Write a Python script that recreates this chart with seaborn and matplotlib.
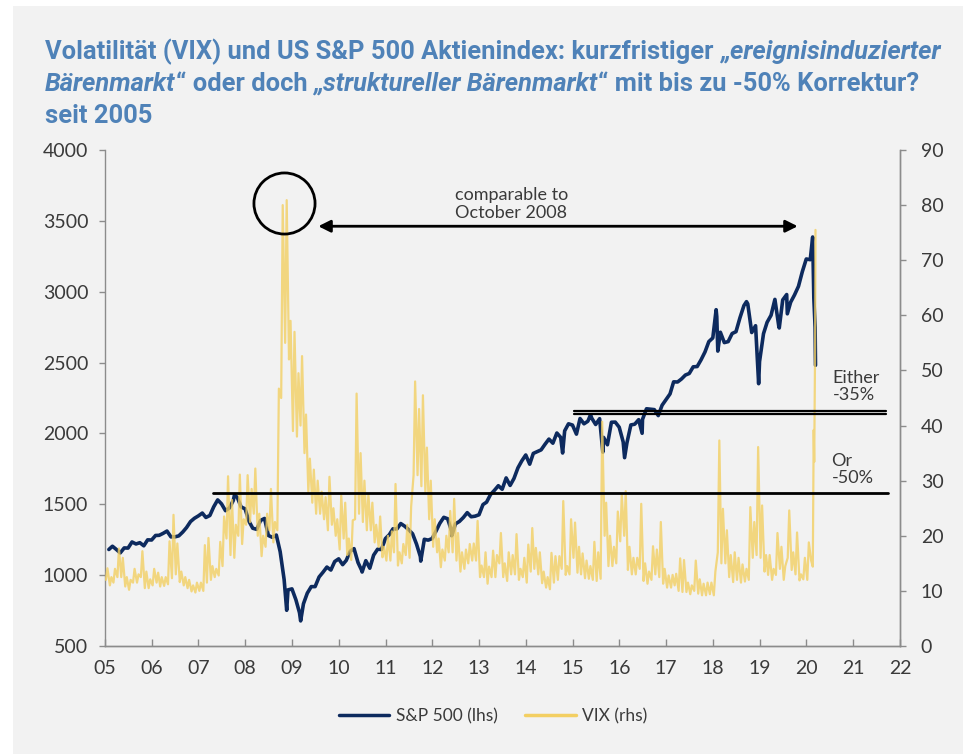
import matplotlib
matplotlib.use("Agg")
import matplotlib.pyplot as plt
import matplotlib.dates as mdates
from matplotlib.lines import Line2D
from matplotlib.patches import Rectangle
import seaborn as sns
import pandas as pd

# S&P 500 month-end closes, Jan 2005 .. Jan 2020
sp_close = [
    1181, 1204, 1181, 1157, 1192, 1191, 1234, 1220, 1229, 1207, 1249, 1248,  # 2005
    1280, 1281, 1295, 1311, 1270, 1270, 1277, 1304, 1336, 1378, 1401, 1418,  # 2006
    1438, 1407, 1421, 1482, 1531, 1503, 1455, 1474, 1527, 1549, 1481, 1468,  # 2007
    1379, 1331, 1323, 1386, 1400, 1280, 1267, 1283, 1166, 969, 896, 903,     # 2008
    826, 735, 798, 873, 919, 919, 987, 1021, 1057, 1036, 1096, 1115,         # 2009
    1074, 1104, 1169, 1187, 1089, 1031, 1102, 1049, 1141, 1183, 1181, 1258,  # 2010
    1286, 1327, 1326, 1364, 1345, 1321, 1292, 1219, 1131, 1253, 1247, 1258,  # 2011
    1312, 1366, 1408, 1398, 1310, 1362, 1379, 1407, 1441, 1412, 1416, 1426,  # 2012
    1498, 1515, 1569, 1598, 1631, 1606, 1686, 1633, 1682, 1757, 1806, 1848,  # 2013
    1783, 1859, 1872, 1884, 1924, 1960, 1931, 2003, 1972, 2018, 2068, 2059,  # 2014
    1995, 2105, 2068, 2086, 2107, 2063, 2104, 1972, 1920, 2079, 2080, 2044,  # 2015
    1940, 1932, 2060, 2065, 2097, 2099, 2174, 2171, 2168, 2126, 2199, 2239,  # 2016
    2279, 2364, 2363, 2384, 2412, 2423, 2470, 2472, 2519, 2575, 2648, 2674,  # 2017
    2824, 2714, 2641, 2648, 2705, 2718, 2816, 2902, 2914, 2712, 2760, 2507,  # 2018
    2704, 2784, 2834, 2946, 2752, 2942, 2980, 2926, 2977, 3038, 3141, 3231,  # 2019
    3226,                                                                    # 2020
]
# intra-month extremes and the Feb/Mar 2020 sell-off
sp_extra_dates = [
    "2007-10-09", "2008-11-20", "2009-03-09", "2010-07-02", "2011-10-03",
    "2012-06-01", "2014-10-15", "2015-05-21", "2015-08-25", "2016-02-11",
    "2016-06-27", "2018-01-26", "2018-02-08", "2018-09-20", "2018-12-24",
    "2019-06-03", "2019-08-05", "2020-02-19", "2020-02-28", "2020-03-09",
    "2020-03-12",
]
sp_extra_values = [
    1565, 752, 677, 1022, 1099,
    1278, 1862, 2131, 1868, 1829,
    2001, 2873, 2581, 2930, 2351,
    2744, 2844, 3386, 2954, 2747,
    2481,
]

# VIX monthly low / high, Jan 2005 .. Jan 2020
vix_low = [
    12.0, 11.0, 11.5, 12.5, 12.5, 10.8, 10.2, 11.5, 11.5, 12.5, 10.5, 10.5,  # 2005
    11.0, 11.5, 10.8, 10.9, 11.2, 12.3, 13.0, 11.6, 11.0, 10.5, 9.9, 9.7,    # 2006
    10.0, 10.0, 11.5, 12.0, 12.5, 12.8, 14.5, 19.5, 16.5, 16.0, 20.0, 18.5,  # 2007
    22.0, 22.5, 24.0, 20.0, 16.3, 18.0, 21.0, 18.8, 21.0, 45.0, 55.0, 52.0,  # 2008
    39.0, 38.0, 40.0, 35.0, 28.0, 26.0, 24.0, 24.0, 23.0, 21.0, 22.0, 20.0,  # 2009
    17.5, 19.5, 16.5, 15.6, 23.0, 24.0, 22.5, 21.0, 21.0, 18.8, 18.0, 16.1,  # 2010
    15.5, 15.5, 17.0, 14.6, 15.0, 16.5, 16.0, 31.0, 31.0, 29.0, 28.0, 23.0,  # 2011
    18.0, 17.0, 14.3, 15.5, 17.0, 17.0, 15.5, 13.5, 14.0, 15.0, 15.5, 15.5,  # 2012
    12.5, 12.5, 11.3, 12.5, 12.5, 15.0, 12.5, 11.8, 13.0, 13.0, 12.0, 12.5,  # 2013
    11.5, 13.5, 14.0, 13.0, 11.4, 10.6, 10.3, 11.5, 12.0, 14.0, 12.9, 13.0,  # 2014
    16.0, 13.3, 13.0, 12.3, 12.2, 12.0, 11.8, 12.2, 20.0, 14.5, 14.5, 15.0,  # 2015
    19.0, 20.0, 13.8, 13.0, 13.0, 14.0, 11.8, 11.3, 12.0, 13.0, 12.5, 11.3,  # 2016
    10.6, 10.6, 11.0, 10.0, 9.8, 9.8, 9.4, 10.0, 9.5, 9.2, 9.2, 9.4,         # 2017
    9.2, 17.0, 15.0, 15.0, 12.5, 11.6, 12.0, 11.5, 11.7, 12.0, 16.0, 16.5,   # 2018
    16.0, 13.5, 12.9, 12.0, 12.9, 14.0, 12.0, 16.0, 13.8, 13.0, 11.9, 12.1,  # 2019
    12.0,                                                                    # 2020
]
vix_high = [
    14.1, 12.5, 14.0, 17.7, 16.0, 12.5, 12.0, 14.0, 13.0, 17.2, 13.5, 12.1,  # 2005
    14.0, 13.3, 12.5, 12.5, 19.0, 23.8, 18.6, 13.5, 12.5, 12.0, 11.0, 11.5,  # 2006
    11.5, 18.3, 19.6, 14.5, 14.0, 18.9, 23.5, 30.8, 26.5, 22.0, 31.1, 23.0,  # 2007
    31.0, 28.5, 32.2, 24.0, 20.0, 24.0, 28.5, 22.5, 46.7, 80.0, 80.9, 59.0,  # 2008
    57.0, 49.5, 52.6, 42.0, 34.0, 32.0, 30.0, 28.0, 27.0, 30.7, 25.0, 23.0,  # 2009
    27.3, 26.0, 19.5, 22.8, 45.8, 35.0, 30.0, 27.5, 26.0, 22.0, 23.5, 18.0,  # 2010
    20.0, 20.8, 29.4, 17.0, 18.5, 22.0, 25.3, 48.0, 43.0, 45.5, 36.0, 30.0,  # 2011
    23.0, 19.5, 17.5, 20.0, 24.5, 26.7, 20.5, 17.0, 17.5, 18.5, 18.6, 22.7,  # 2012
    14.6, 17.0, 14.4, 17.3, 16.5, 20.5, 15.0, 17.0, 16.5, 20.3, 14.0, 16.0,  # 2013
    18.4, 21.4, 17.8, 17.0, 13.5, 12.5, 16.9, 16.3, 16.3, 26.3, 14.5, 23.0,  # 2014
    22.4, 18.0, 16.8, 15.5, 14.5, 18.9, 17.0, 40.7, 26.0, 20.0, 18.0, 24.4,  # 2015
    27.5, 28.1, 18.0, 16.0, 16.0, 25.8, 15.0, 13.5, 18.1, 17.5, 22.5, 14.0,  # 2016
    12.8, 12.9, 13.1, 15.9, 15.6, 11.5, 11.0, 15.5, 12.1, 11.3, 11.5, 11.5,  # 2017
    13.5, 37.3, 24.9, 21.0, 16.5, 17.0, 16.0, 14.8, 14.0, 25.2, 22.5, 36.1,  # 2018
    25.5, 16.5, 16.5, 14.0, 20.5, 18.0, 14.5, 24.6, 17.0, 20.6, 13.0, 16.0,  # 2019
    18.8,                                                                    # 2020
]
vix_tail_dates = ["2020-02-07", "2020-02-20", "2020-02-27", "2020-03-02",
                  "2020-03-09", "2020-03-12"]
vix_tail_values = [15.5, 14.4, 39.2, 33.4, 54.5, 75.5]

year_labels = [f"{y % 100:02d}" for y in range(2005, 2023)]
legend_labels = ["S&P 500 (lhs)", "VIX (rhs)"]

title_lines = [
    [("Volatilität (VIX) und US S&P 500 Aktienindex: kurzfristiger ", "normal"),
     ("„ereignisinduzierter", "italic")],
    [("Bärenmarkt", "italic"), ("“ oder doch ", "normal"),
     ("„struktureller Bärenmarkt", "italic"),
     ("“ mit bis zu -50% Korrektur?", "normal")],
    [("seit 2005", "normal")],
]

SP_COLOR = "#0d2a5e"
VIX_COLOR = "#f3cf62"
TITLE_COLOR = "#4f82b8"
TEXT_COLOR = "#3a3a3a"
BG = "#f2f2f2"

# ---- build frames ----
sp_dates = pd.date_range("2005-01-01", periods=len(sp_close), freq="ME")
sp = pd.DataFrame({"date": list(sp_dates) + list(pd.to_datetime(sp_extra_dates)),
                   "value": sp_close + sp_extra_values}).sort_values("date")

months = pd.date_range("2005-01-01", periods=len(vix_low), freq="MS")
vix_dates = []
vix_vals = []
for m, lo, hi in zip(months, vix_low, vix_high):
    vix_dates += [m + pd.Timedelta(days=7), m + pd.Timedelta(days=19)]
    vix_vals += [lo, hi]
vix = pd.DataFrame({"date": vix_dates + list(pd.to_datetime(vix_tail_dates)),
                    "value": vix_vals + vix_tail_values}).sort_values("date")

# ---- figure ----
sns.set_style("ticks")
plt.rcParams["font.family"] = ["Lato", "DejaVu Sans"]

fig = plt.figure(figsize=(9.63, 7.54), dpi=100, facecolor="white")
fig.patches.append(Rectangle((13 / 963, 0), 1, 1 - 6 / 754, transform=fig.transFigure,
                             facecolor=BG, edgecolor="none", zorder=-10))

ax = fig.add_axes([105 / 963, 1 - 646 / 754, 795 / 963, 496 / 754])
ax2 = ax.twinx()
for a in (ax, ax2):
    a.set_facecolor("none")

sns.lineplot(data=sp, x="date", y="value", ax=ax, color=SP_COLOR, lw=2.6)
sns.lineplot(data=vix, x="date", y="value", ax=ax2, color=VIX_COLOR, lw=1.6, alpha=0.8)

ax.set_xlim(pd.Timestamp("2005-01-01"), pd.Timestamp("2022-01-01"))
ax.set_ylim(500, 4000)
ax.set_yticks(range(500, 4001, 500))
ax2.set_ylim(0, 90)
ax2.set_yticks(range(0, 91, 10))
ax.set_xticks([pd.Timestamp(f"{y}-01-01") for y in range(2005, 2023)])
ax.set_xticklabels(year_labels)
for a in (ax, ax2):
    a.set_xlabel("")
    a.set_ylabel("")
    a.spines["top"].set_visible(False)
    for s in ("left", "right", "bottom"):
        a.spines[s].set_color("#8c8c8c")
        a.spines[s].set_linewidth(1)
    a.tick_params(axis="y", direction="out", length=4, width=1, color="#8c8c8c",
                  labelsize=14, labelcolor=TEXT_COLOR)
ax.tick_params(axis="y", pad=8)
ax2.tick_params(axis="y", pad=11)
ax.tick_params(axis="x", direction="in", length=5, width=1, color="#8c8c8c",
               labelsize=14, labelcolor=TEXT_COLOR, pad=10)
ax2.spines["left"].set_visible(False)

# ---- annotations (drawn on top axis, in S&P coordinates) ----
T = ax.transData
d = mdates.date2num
ax2.plot([d(pd.Timestamp("2007-04-27")), d(pd.Timestamp("2021-10-01"))], [1580, 1580],
         color="black", lw=2, transform=T)
for lvl in (2160, 2136):
    ax2.plot([d(pd.Timestamp("2015-01-15")), d(pd.Timestamp("2021-09-10"))], [lvl, lvl],
             color="black", lw=1.6, transform=T)
ax2.plot([d(pd.Timestamp("2008-10-27"))], [3624], marker="o", ms=44, mfc="none",
         mec="black", mew=2, transform=T)
ax2.annotate("", xy=(d(pd.Timestamp("2019-10-25")), 3462),
             xytext=(d(pd.Timestamp("2009-07-25")), 3462),
             xycoords=T, textcoords=T,
             arrowprops=dict(arrowstyle="<|-|>", color="black", lw=2, mutation_scale=18,
                             shrinkA=0, shrinkB=0))
note_kw = dict(transform=T, va="center", fontsize=13, color=TEXT_COLOR, linespacing=1.1)
ax2.text(d(pd.Timestamp("2013-09-10")), 3620, "comparable to\nOctober 2008",
         ha="center", **note_kw)
ax2.text(d(pd.Timestamp("2020-07-25")), 2330, "Either\n-35%", ha="left", **note_kw)
ax2.text(d(pd.Timestamp("2020-07-15")), 1745, "Or\n-50%", ha="left", **note_kw)

# ---- legend ----
handles = [Line2D([], [], color=SP_COLOR, lw=2.5), Line2D([], [], color=VIX_COLOR, lw=2.5)]
fig.legend(handles, legend_labels, loc="center", bbox_to_anchor=(493 / 963, 1 - 716 / 754),
           ncol=2, frameon=False, fontsize=12.5, handlelength=2.9, handletextpad=0.35,
           columnspacing=1.6, labelcolor=TEXT_COLOR)

# ---- title with mixed italic segments ----
renderer = fig.canvas.get_renderer()


def draw_line(x0, y0, segs, size):
    x = x0
    arts = []
    for txt, style in segs:
        t = fig.text(x / 963, 1 - y0 / 754, txt, fontsize=size, fontweight="bold",
                     fontstyle=style, color=TITLE_COLOR, va="baseline", ha="left",
                     family=["Roboto", "DejaVu Sans"])
        bb = t.get_window_extent(renderer)
        x = bb.x1
        arts.append(t)
    return arts, x - x0


probe, w = draw_line(45, 58, title_lines[0], 16)
for t in probe:
    t.remove()
size = 16 * 895 / w
for i, segs in enumerate(title_lines):
    draw_line(45, 59 + 32 * i, segs, size)

fig.savefig("out.png", dpi=100, facecolor=fig.get_facecolor())
